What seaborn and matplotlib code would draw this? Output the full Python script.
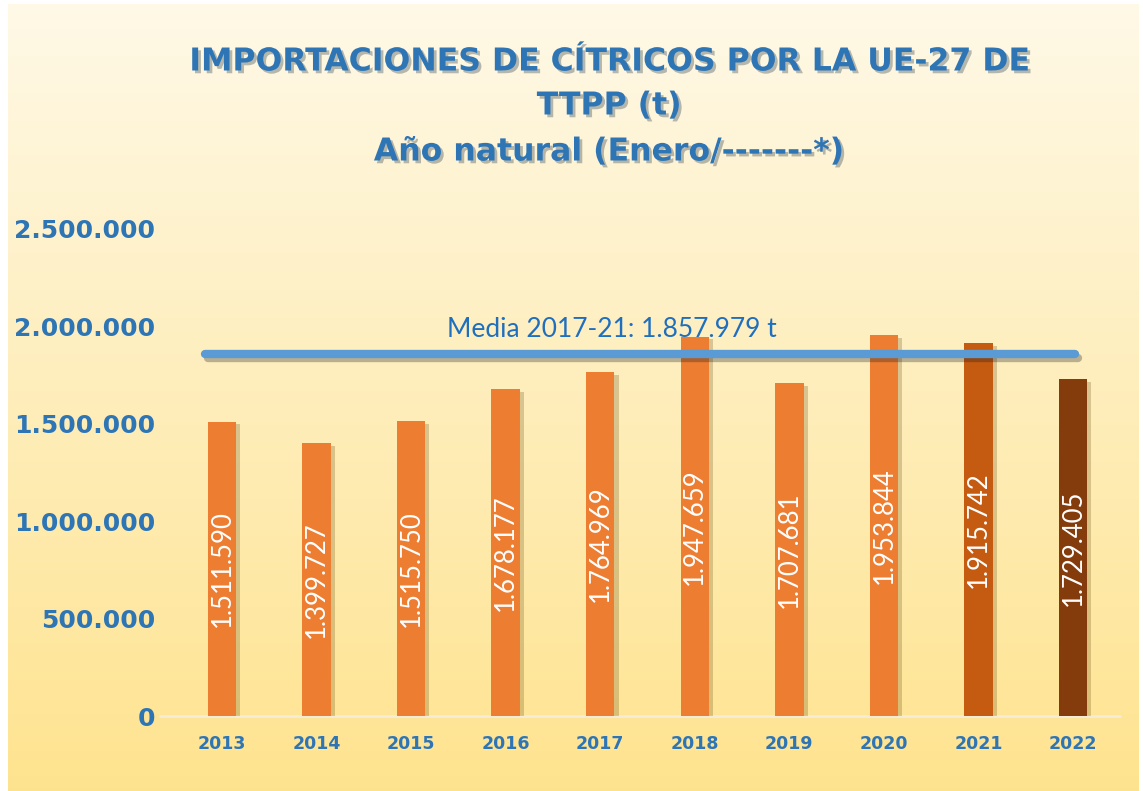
import numpy as np
import pandas as pd
import matplotlib
matplotlib.use("Agg")
import matplotlib.pyplot as plt
import matplotlib.patheffects as pe
import seaborn as sns

years = ["2013", "2014", "2015", "2016", "2017", "2018", "2019", "2020", "2021", "2022"]
values = [1511590, 1399727, 1515750, 1678177, 1764969, 1947659, 1707681, 1953844, 1915742, 1729405]
value_labels = ["1.511.590", "1.399.727", "1.515.750", "1.678.177", "1.764.969",
                "1.947.659", "1.707.681", "1.953.844", "1.915.742", "1.729.405"]
mean_2017_21 = 1857979
mean_label = "Media 2017-21: 1.857.979 t"
yticks = [0, 500000, 1000000, 1500000, 2000000, 2500000]
ytick_labels = ["0", "500.000", "1.000.000", "1.500.000", "2.000.000", "2.500.000"]
title_lines = ["IMPORTACIONES DE CÍTRICOS POR LA UE-27 DE", "TTPP (t)", "Año natural (Enero/-------*)"]

bar_colors = ["#ED7D31"] * 8 + ["#C55A11", "#843C0C"]
blue = "#2E75B6"

sns.set_theme(style="white")
plt.rcParams["font.family"] = ["Lato", "DejaVu Sans"]

W, H = 1143, 791
fig = plt.figure(figsize=(W / 100, H / 100), dpi=100)
fig.patch.set_facecolor("white")

# background gradient
bg = fig.add_axes([8 / W, 0, (W - 12) / W, (H - 4) / H], zorder=0)
grad = np.linspace(0, 1, 256)[:, None]
top = np.array([1.0, 0.975, 0.905])
bot = np.array([0.996, 0.890, 0.560])
img = top[None, None, :] * (1 - grad[:, :, None]) + bot[None, None, :] * grad[:, :, None]
img = np.repeat(img, 4, axis=1)
bg.imshow(img, aspect="auto", extent=[0, 1, 0, 1])
bg.axis("off")

ax = fig.add_axes([174.7 / W, 1 - 716 / H, 945.6 / W, (716 - 229) / H], zorder=1)
ax.patch.set_alpha(0)

df = pd.DataFrame({"year": years, "value": values})
sns.barplot(data=df, x="year", y="value", hue="year", palette=bar_colors,
            width=0.3, legend=False, ax=ax, saturation=1, linewidth=0, edgecolor="none")
for p in ax.patches:
    p.set_path_effects([pe.SimplePatchShadow(offset=(3, -2), alpha=0.25, shadow_rgbFace="#6a4a10"), pe.Normal()])

ax.set_xlim(-0.5, 9.5)
ax.set_ylim(0, 2500000)
ax.set_yticks(yticks)
ax.set_yticklabels(ytick_labels)
ax.tick_params(axis="y", length=0, pad=14, labelcolor=blue)
ax.tick_params(axis="x", length=0, pad=14, labelcolor=blue)
for lab in ax.get_yticklabels():
    lab.set_fontweight("bold")
    lab.set_fontfamily(["DejaVu Sans"])
    lab.set_fontsize(18)
for lab in ax.get_xticklabels():
    lab.set_fontweight("bold")
    lab.set_fontfamily(["DejaVu Sans"])
    lab.set_fontsize(12.5)
ax.set_xlabel("")
ax.set_ylabel("")
for s in ax.spines.values():
    s.set_visible(False)
ax.axhline(0, xmin=-15 / 945.6, xmax=1.0, color="#f4ecd6", lw=2, clip_on=False, zorder=0.5)

# value labels
for i, (v, lab) in enumerate(zip(values, value_labels)):
    ax.text(i, v / 2, lab, rotation=90, ha="center", va="center", color="white",
            fontsize=18.5, zorder=5)

# mean line
ax.hlines(mean_2017_21, -0.18, 9.02, color="#5B9BD5", lw=6, capstyle="round", zorder=4,
          path_effects=[pe.SimpleLineShadow(offset=(2, -3), alpha=0.3), pe.Normal()])
ax.text(2.38, mean_2017_21 + 60000, mean_label, ha="left", va="bottom", color="#1F6FBF",
        fontsize=19, zorder=5)

# title
title_y = [62, 106, 152]
for line, yy in zip(title_lines, title_y):
    fig.text(609 / W, 1 - yy / H, line, ha="center", va="center", fontsize=22.7,
             fontweight="bold", color=blue, family=["DejaVu Sans"],
             path_effects=[pe.SimplePatchShadow(offset=(2, -2), alpha=0.3), pe.Normal()])

fig.savefig("out.png", dpi=100)
